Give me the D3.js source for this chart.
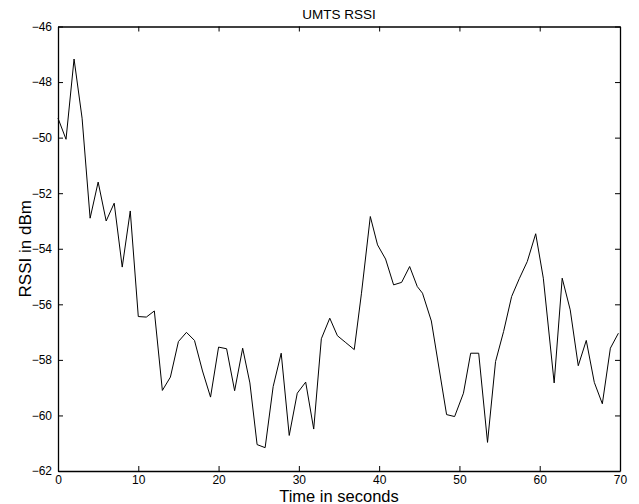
<!DOCTYPE html>
<html>
<head>
<meta charset="utf-8">
<script src="https://cdn.jsdelivr.net/npm/d3@7"></script>
<style>
  body { margin: 0; background: #fff; }
  svg text { font-family: "Liberation Sans", Arial, sans-serif; fill: #000; }
</style>
</head>
<body>
<div id="chart"></div>
<script>
// sample times (s) and RSSI readings (dBm)
const timeSec = [0, 1, 2, 3, 4, 5, 6, 7, 8, 9,
  10, 11, 12, 13, 14, 15, 16, 17, 18, 19,
  20, 21, 22, 23, 23.9, 24.8, 25.8, 26.8, 27.8, 28.8,
  29.8, 30.85, 31.85, 32.8, 33.85, 34.8, 35.85, 36.9, 37.8, 38.9,
  39.8, 40.8, 41.8, 42.8, 43.8, 44.75, 45.4, 46.5, 48.4, 49.4,
  50.5, 51.4, 52.4, 53.5, 54.5, 55.5, 56.5, 57.45, 58.45, 59.5,
  60.45, 61.8, 62.8, 63.8, 64.8, 65.8, 66.8, 67.8, 68.8, 69.8];
const rssi = [-49.3, -50.06, -47.17, -49.3, -52.9, -51.6, -53.0, -52.36, -54.66, -52.64,
  -56.44, -56.46, -56.24, -59.1, -58.62, -57.34, -57.01, -57.3, -58.4, -59.34,
  -57.54, -57.6, -59.11, -57.58, -58.83, -61.05, -61.16, -58.96, -57.76, -60.72,
  -59.2, -58.8, -60.49, -57.24, -56.5, -57.13, -57.38, -57.63, -55.6, -52.84,
  -53.86, -54.37, -55.3, -55.21, -54.64, -55.36, -55.6, -56.6, -59.97, -60.04,
  -59.2, -57.76, -57.76, -60.97, -58.06, -56.98, -55.72, -55.08, -54.46, -53.46,
  -55.06, -58.83, -55.06, -56.2, -58.21, -57.3, -58.81, -59.58, -57.58, -57.04];
const xTicks = [0, 10, 20, 30, 40, 50, 60, 70];
const yTicks = [-62, -60, -58, -56, -54, -52, -50, -48, -46];

const margin = {top: 26.5, right: 19, bottom: 33, left: 58},
      width = 639 - margin.left - margin.right,
      height = 504 - margin.top - margin.bottom;

const svg = d3.select("#chart")
    .append("svg")
    .attr("width", 639)
    .attr("height", 504);

const g = svg.append("g")
    .attr("transform", `translate(${margin.left},${margin.top})`);

const x = d3.scaleLinear().domain([0, 70]).range([0, width]);
const y = d3.scaleLinear().domain([-62, -46]).range([height, 0]);

// bottom axis with labels, ticks pointing inward
g.append("g")
    .attr("class", "axis")
    .attr("transform", `translate(0,${height})`)
    .call(d3.axisBottom(x).tickValues(xTicks).tickSizeInner(-5).tickSizeOuter(0).tickPadding(4))
    .selectAll("text").style("font-size", "12px");

g.append("g")
    .attr("class", "axis")
    .call(d3.axisLeft(y).tickValues(yTicks).tickSizeInner(-5).tickSizeOuter(0).tickPadding(6))
    .selectAll("text").style("font-size", "12px");

// mirrored top/right axes, no labels
g.append("g")
    .attr("class", "axis")
    .call(d3.axisTop(x).tickValues(xTicks).tickSizeInner(-5).tickSizeOuter(0).tickFormat(""));

g.append("g")
    .attr("class", "axis")
    .attr("transform", `translate(${width},0)`)
    .call(d3.axisRight(y).tickValues(yTicks).tickSizeInner(-5).tickSizeOuter(0).tickFormat(""));

g.selectAll(".axis path").attr("stroke", "#000").attr("stroke-width", 1.3);
g.selectAll(".axis line").attr("stroke", "#000").attr("stroke-width", 1);

const points = timeSec.map((t, i) => [t, rssi[i]]);

const line = d3.line()
    .x(d => x(d[0]))
    .y(d => y(d[1]));

g.append("path")
    .datum(points)
    .attr("fill", "none")
    .attr("stroke", "#000")
    .attr("stroke-width", 1)
    .attr("d", line);

// title and axis labels
svg.append("text")
    .attr("x", margin.left + width / 2)
    .attr("y", 19)
    .attr("text-anchor", "middle")
    .style("font-size", "13.5px")
    .text("UMTS RSSI");

svg.append("text")
    .attr("x", margin.left + width / 2)
    .attr("y", 501.5)
    .attr("text-anchor", "middle")
    .style("font-size", "16.5px")
    .text("Time in seconds");

svg.append("text")
    .attr("transform", `translate(30.5,${margin.top + height / 2}) rotate(-90)`)
    .attr("text-anchor", "middle")
    .style("font-size", "17px")
    .text("RSSI in dBm");
</script>
</body>
</html>
